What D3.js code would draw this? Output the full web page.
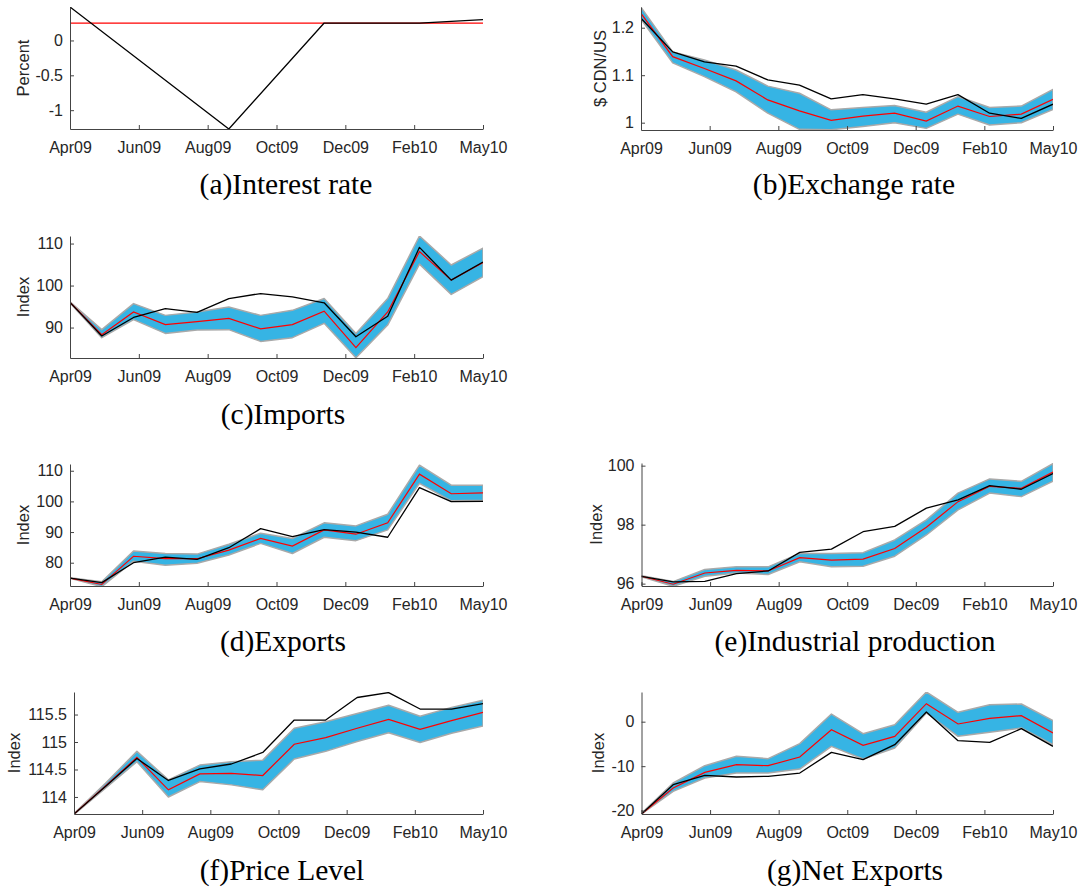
<!DOCTYPE html>
<html>
<head>
<meta charset="utf-8">
<script src="https://cdn.jsdelivr.net/npm/d3@7"></script>
<style>
  body { margin: 0; background: #fff; }
  svg { display: block; }
</style>
</head>
<body>
<script>
// month labels on the x axis (7 evenly spaced ticks over 14 monthly points)
var monthTicks = ["Apr09", "Jun09", "Aug09", "Oct09", "Dec09", "Feb10", "May10"];
var nPoints = 14;

// (a) interest rate: actual path (only the kinks), and flat forecast
var rateActualIdx = [0, 5, 8, 11, 13];
var rateActual    = [0.48, -1.27, 0.25, 0.25, 0.3];
var rateMedianIdx = [0, 13];
var rateMedian    = [0.25, 0.25];

// (b) exchange rate
var exchActual = [1.22, 1.149, 1.128, 1.119, 1.09, 1.079, 1.05, 1.059, 1.05, 1.039, 1.059, 1.02, 1.009, 1.039];
var exchMedian = [1.23, 1.139, 1.114, 1.088, 1.048, 1.025, 1.005, 1.014, 1.02, 1.0035, 1.035, 1.013, 1.018, 1.049];
var exchUpper  = [1.243, 1.149, 1.132, 1.111, 1.077, 1.062, 1.027, 1.032, 1.036, 1.022, 1.055, 1.032, 1.035, 1.07];
var exchLower  = [1.218, 1.126, 1.097, 1.065, 1.02, 0.986, 0.985, 0.992, 1.0, 0.988, 1.018, 0.995, 1.0, 1.028];

// (c) imports
var impActual = [96.0, 88.0, 92.4, 94.5, 93.6, 96.9, 98.1, 97.3, 95.9, 87.8, 92.7, 109.1, 101.3, 105.6];
var impMedian = [96.0, 88.3, 93.7, 90.7, 91.4, 92.2, 89.7, 90.7, 93.9, 85.2, 93.7, 108.1, 101.3, 105.5];
var impUpper  = [96.1, 89.5, 95.7, 92.9, 93.7, 94.9, 92.9, 94.1, 96.9, 88.6, 96.9, 111.8, 104.9, 108.9];
var impLower  = [95.9, 87.6, 91.9, 88.6, 89.4, 89.5, 86.7, 87.6, 91.0, 82.8, 90.6, 105.1, 97.9, 102.1];

// (d) exports
var expActual = [75.0, 73.5, 80.0, 81.8, 81.1, 84.9, 91.1, 88.5, 90.8, 90.0, 88.3, 104.5, 99.9, 100.0];
var expMedian = [75.0, 72.9, 82.1, 81.3, 81.3, 84.1, 87.9, 85.4, 90.7, 89.3, 93.0, 108.9, 102.5, 102.8];
var expUpper  = [75.1, 73.8, 83.8, 83.0, 82.8, 86.0, 89.6, 87.9, 93.0, 92.0, 95.8, 111.8, 105.3, 105.3];
var expLower  = [74.9, 72.2, 80.5, 79.2, 79.8, 82.5, 86.3, 83.0, 88.3, 87.2, 90.7, 105.9, 100.2, 100.4];

// (e) industrial production
var ipActual = [96.25, 96.06, 96.08, 96.34, 96.43, 97.06, 97.17, 97.76, 97.94, 98.56, 98.84, 99.32, 99.2, 99.73];
var ipMedian = [96.25, 95.98, 96.36, 96.45, 96.43, 96.88, 96.8, 96.83, 97.19, 97.91, 98.78, 99.3, 99.23, 99.78];
var ipUpper  = [96.27, 96.07, 96.48, 96.57, 96.57, 97.02, 97.02, 97.05, 97.48, 98.16, 99.07, 99.55, 99.47, 100.07];
var ipLower  = [96.23, 95.91, 96.25, 96.36, 96.31, 96.74, 96.57, 96.59, 96.93, 97.65, 98.5, 99.07, 98.95, 99.47];

// (f) price level
var priceActual = [113.69, 114.19, 114.7, 114.3, 114.51, 114.6, 114.81, 115.4, 115.4, 115.81, 115.9, 115.6, 115.6, 115.7];
var priceMedian = [113.69, 114.2, 114.72, 114.13, 114.42, 114.43, 114.39, 114.96, 115.08, 115.25, 115.41, 115.23, 115.39, 115.54];
var priceUpper  = [113.7, 114.25, 114.83, 114.31, 114.58, 114.64, 114.67, 115.25, 115.37, 115.52, 115.67, 115.47, 115.63, 115.76];
var priceLower  = [113.68, 114.16, 114.64, 114.0, 114.28, 114.22, 114.13, 114.69, 114.83, 115.01, 115.17, 114.99, 115.16, 115.29];

// (g) net exports
var nxActual = [-20.75, -14.16, -12.06, -12.43, -12.28, -11.54, -6.89, -8.54, -5.17, 2.17, -4.27, -4.64, -1.57, -5.54];
var nxMedian = [-20.75, -14.9, -11.39, -9.66, -9.89, -7.94, -1.8, -5.32, -3.3, 4.04, -0.52, 0.75, 1.35, -2.55];
var nxUpper  = [-20.6, -13.78, -9.89, -7.79, -8.31, -4.94, 1.72, -2.7, -0.67, 6.67, 2.1, 3.82, 3.97, 0.22];
var nxLower  = [-20.75, -15.66, -12.66, -11.54, -11.54, -10.64, -5.54, -8.39, -5.92, 1.95, -3.3, -2.4, -1.42, -5.17];

var w = 1085;
var h = 890;

var svg = d3.select("body")
            .append("svg")
            .attr("width", w)
            .attr("height", h);

svg.append("rect").attr("width", w).attr("height", h).attr("fill", "#fff");

var tickFont = "'Liberation Sans', Arial, Helvetica, sans-serif";
var capFont = "'Liberation Serif', 'Times New Roman', Times, serif";

function idx(arr) { return arr.map(function(v, i) { return i; }); }

// panel layout
var panels = [
  { id: "a", left: 70, right: 483, top: 7, bottom: 129, domain: [-1.27, 0.48], ticks: [-1, -0.5, 0],
    ylabel: "Percent", ylabelX: 23, caption: "(a)Interest rate", capX: 286, capY: 194,
    actual: rateActual, actualIdx: rateActualIdx, median: rateMedian, medianIdx: rateMedianIdx },
  { id: "b", left: 641, right: 1053, top: 7, bottom: 130, domain: [0.9846, 1.2436], ticks: [1, 1.1, 1.2],
    ylabel: "$ CDN/US", ylabelX: 600, caption: "(b)Exchange rate", capX: 854, capY: 194,
    actual: exchActual, median: exchMedian, upper: exchUpper, lower: exchLower },
  { id: "c", left: 70, right: 483, top: 236, bottom: 358, domain: [82.75, 111.8], ticks: [90, 100, 110],
    ylabel: "Index", ylabelX: 23, caption: "(c)Imports", capX: 283, capY: 424,
    actual: impActual, median: impMedian, upper: impUpper, lower: impLower },
  { id: "d", left: 70, right: 483, top: 464, bottom: 586, domain: [72.4, 112.2], ticks: [80, 90, 100, 110],
    ylabel: "Index", ylabelX: 23, caption: "(d)Exports", capX: 283, capY: 651,
    actual: expActual, median: expMedian, upper: expUpper, lower: expLower },
  { id: "e", left: 641.5, right: 1053, top: 463, bottom: 586, domain: [95.92, 100.09], ticks: [96, 98, 100],
    ylabel: "Index", ylabelX: 596, caption: "(e)Industrial production", capX: 855, capY: 651,
    actual: ipActual, median: ipMedian, upper: ipUpper, lower: ipLower },
  { id: "f", left: 74, right: 483, top: 692, bottom: 814, domain: [113.69, 115.91], ticks: [114, 114.5, 115, 115.5],
    ylabel: "Index", ylabelX: 14, caption: "(f)Price Level", capX: 282, capY: 880,
    actual: priceActual, median: priceMedian, upper: priceUpper, lower: priceLower },
  { id: "g", left: 641.5, right: 1053, top: 692, bottom: 814, domain: [-20.75, 6.67], ticks: [-20, -10, 0],
    ylabel: "Index", ylabelX: 598, caption: "(g)Net Exports", capX: 855, capY: 880,
    actual: nxActual, median: nxMedian, upper: nxUpper, lower: nxLower }
];

panels.forEach(function(p) {
  var xScale = d3.scaleLinear().domain([0, nPoints - 1]).range([p.left, p.right]);
  var yScale = d3.scaleLinear().domain(p.domain).range([p.bottom, p.top]);

  var g = svg.append("g").attr("class", "panel-" + p.id);

  // clip to the axes box
  svg.append("clipPath").attr("id", "clip-" + p.id)
     .append("rect")
       .attr("x", p.left).attr("y", p.top)
       .attr("width", p.right - p.left).attr("height", p.bottom - p.top);

  var plot = g.append("g").attr("clip-path", "url(#clip-" + p.id + ")");

  // confidence band
  if (p.upper) {
    var band = p.upper.map(function(u, i) { return { i: i, hi: u, lo: p.lower[i] }; });
    var area = d3.area()
                 .x(function(d) { return xScale(d.i); })
                 .y0(function(d) { return yScale(d.lo); })
                 .y1(function(d) { return yScale(d.hi); });
    plot.append("path")
        .datum(band)
        .attr("d", area)
        .attr("fill", "#36b4e4")
        .attr("stroke", "#a9a9a9")
        .attr("stroke-width", 1.5)
        .attr("stroke-linejoin", "round");
  }

  var line = d3.line()
               .x(function(d) { return xScale(d.i); })
               .y(function(d) { return yScale(d.v); });

  var medIdx = p.medianIdx || idx(p.median);
  var actIdx = p.actualIdx || idx(p.actual);

  // median forecast (red)
  plot.append("path")
      .datum(p.median.map(function(v, k) { return { i: medIdx[k], v: v }; }))
      .attr("d", line)
      .attr("fill", "none")
      .attr("stroke", "#ff0000")
      .attr("stroke-width", 1.2);

  // actual data (black)
  plot.append("path")
      .datum(p.actual.map(function(v, k) { return { i: actIdx[k], v: v }; }))
      .attr("d", line)
      .attr("fill", "none")
      .attr("stroke", "#000")
      .attr("stroke-width", 1.3)
      .attr("stroke-linejoin", "round");

  // axes
  var x_axis = d3.axisBottom(xScale)
                 .tickValues(d3.range(monthTicks.length).map(function(k) { return k * (nPoints - 1) / (monthTicks.length - 1); }))
                 .tickFormat(function(d, k) { return monthTicks[k]; })
                 .tickSizeInner(-4)
                 .tickSizeOuter(0)
                 .tickPadding(12.5);

  var y_axis = d3.axisLeft(yScale)
                 .tickValues(p.ticks)
                 .tickFormat(function(d) { return String(d); })
                 .tickSizeInner(-4)
                 .tickSizeOuter(0)
                 .tickPadding(7);

  var gx = g.append("g")
            .attr("transform", "translate(0," + p.bottom + ")")
            .call(x_axis);
  var gy = g.append("g")
            .attr("transform", "translate(" + p.left + ",0)")
            .call(y_axis);

  [gx, gy].forEach(function(ax) {
    ax.select(".domain").attr("stroke", "#444").attr("stroke-width", 1);
    ax.selectAll(".tick line").attr("stroke", "#444").attr("stroke-width", 1);
    ax.selectAll("text")
      .attr("fill", "#262626")
      .style("font-family", tickFont)
      .style("font-size", "16px");
  });

  // y label
  g.append("text")
   .attr("transform", "translate(" + p.ylabelX + "," + ((p.top + p.bottom) / 2) + ") rotate(-90)")
   .attr("text-anchor", "middle")
   .attr("dy", "0.35em")
   .attr("fill", "#262626")
   .style("font-family", tickFont)
   .style("font-size", "16.5px")
   .text(p.ylabel);

  // caption
  g.append("text")
   .attr("x", p.capX)
   .attr("y", p.capY)
   .attr("text-anchor", "middle")
   .attr("fill", "#000")
   .style("font-family", capFont)
   .style("font-size", "29.5px")
   .text(p.caption);
});
</script>
</body>
</html>
